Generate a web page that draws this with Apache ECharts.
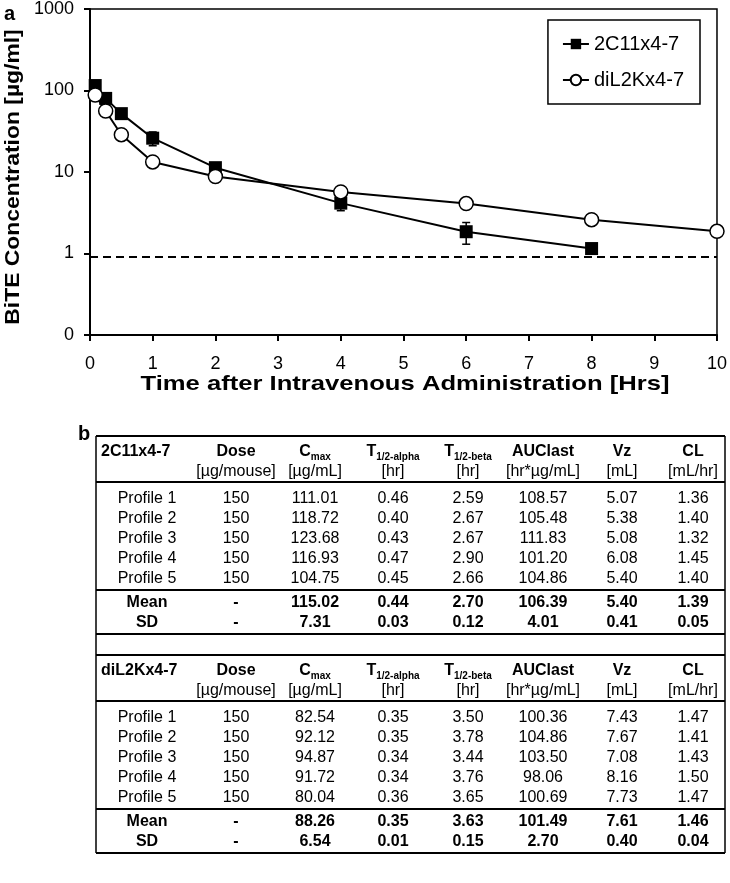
<!DOCTYPE html>
<html><head><meta charset="utf-8">
<script src="https://cdn.jsdelivr.net/npm/echarts@6/dist/echarts.min.js"></script>
<style>html,body{margin:0;padding:0;background:#fff}#c{width:730px;height:883px}</style>
</head><body><div id="c"></div>
<script>
// ---------- chart data (panel a) ----------
const seriesNames = ['2C11x4-7', 'diL2Kx4-7'];
const time2C11 = [0.083, 0.25, 0.5, 1, 2, 4, 6, 8];
const conc2C11 = [115, 80, 52, 26, 11.3, 4.15, 1.85, 1.15];
const sd2C11 = [8, 6, 4, 5, 1.5, 0.8, 0.55, 0.1];
const timeDiL2K = [0.083, 0.25, 0.5, 1, 2, 4, 6, 8, 10];
const concDiL2K = [88, 56, 28.7, 13.3, 8.8, 5.7, 4.1, 2.6, 1.87];
const lloq = 0.91;
const yTickValues = [0.1, 1, 10, 100, 1000];
const yTickLabels = ['0', '1', '10', '100', '1000'];
const xTitle = 'Time after Intravenous Administration [Hrs]';
const yTitle = 'BiTE Concentration [µg/ml]';

// ---------- table data (panel b) ----------
const headMain = ['Dose', 'C', 'T', 'T', 'AUClast', 'Vz', 'CL'];
const headSub = ['', 'max', '1/2-alpha', '1/2-beta', '', '', ''];
const headUnits = ['[µg/mouse]', '[µg/mL]', '[hr]', '[hr]', '[hr*µg/mL]', '[mL]', '[mL/hr]'];
const profileLabels = ['Profile 1', 'Profile 2', 'Profile 3', 'Profile 4', 'Profile 5'];
const statLabels = ['Mean', 'SD'];
const groupNames = ['2C11x4-7', 'diL2Kx4-7'];
const profiles2C11 = [
  [150, 111.01, 0.46, 2.59, 108.57, 5.07, 1.36],
  [150, 118.72, 0.40, 2.67, 105.48, 5.38, 1.40],
  [150, 123.68, 0.43, 2.67, 111.83, 5.08, 1.32],
  [150, 116.93, 0.47, 2.90, 101.20, 6.08, 1.45],
  [150, 104.75, 0.45, 2.66, 104.86, 5.40, 1.40]
];
const mean2C11 = ['-', 115.02, 0.44, 2.70, 106.39, 5.40, 1.39];
const sdTab2C11 = ['-', 7.31, 0.03, 0.12, 4.01, 0.41, 0.05];
const profilesDiL2K = [
  [150, 82.54, 0.35, 3.50, 100.36, 7.43, 1.47],
  [150, 92.12, 0.35, 3.78, 104.86, 7.67, 1.41],
  [150, 94.87, 0.34, 3.44, 103.50, 7.08, 1.43],
  [150, 91.72, 0.34, 3.76, 98.06, 8.16, 1.50],
  [150, 80.04, 0.36, 3.65, 100.69, 7.73, 1.47]
];
const meanDiL2K = ['-', 88.26, 0.35, 3.63, 101.49, 7.61, 1.46];
const sdTabDiL2K = ['-', 6.54, 0.01, 0.15, 2.70, 0.40, 0.04];

// ---------- build ----------
const FONT = '"Liberation Sans", Arial, Helvetica, sans-serif';
const chart = echarts.init(document.getElementById('c'), null, {renderer: 'canvas'});

function fmt(v, col) { return (typeof v === 'number') ? (col === 0 ? String(v) : v.toFixed(2)) : v; }

// table layout
const colX = [236, 315, 393, 468, 543, 622, 693];
const labelX = 147;
const tblLeft = 96, tblRight = 725;
const blockTops = [436, 655];
const g = [];
function txt(x, y, text, bold, size, align) {
  g.push({type: 'text', z: 10, style: {x: x, y: y, text: text, fill: '#000', font: (bold ? 'bold ' : '') + (size || 16) + 'px ' + FONT, align: align || 'center', verticalAlign: 'middle'}});
}
function hline(y, w) {
  g.push({type: 'line', z: 10, shape: {x1: tblLeft, y1: y, x2: tblRight, y2: y}, style: {stroke: '#000', lineWidth: w || 2}});
}
const blocks = [
  {name: groupNames[0], prof: profiles2C11, mean: mean2C11, sd: sdTab2C11},
  {name: groupNames[1], prof: profilesDiL2K, mean: meanDiL2K, sd: sdTabDiL2K}
];
blocks.forEach((b, bi) => {
  const T = blockTops[bi];
  txt(101, T + 16, b.name, true, 16, 'left');
  headMain.forEach((h, i) => {
    if (headSub[i]) {
      g.push({type: 'text', z: 10, style: {x: colX[i], y: T + 16, text: '{m|' + h + '}{s|' + headSub[i] + '}', align: 'center', verticalAlign: 'middle',
        rich: {m: {fontSize: 16, fontWeight: 'bold', fontFamily: 'Liberation Sans', fill: '#000', lineHeight: 20},
               s: {fontSize: 10, fontWeight: 'bold', fontFamily: 'Liberation Sans', fill: '#000', lineHeight: 20, verticalAlign: 'bottom'}}}});
    } else {
      txt(colX[i], T + 16, h, true, 16);
    }
    txt(colX[i], T + 36, headUnits[i], false, 16);
  });
  hline(T + 46, 2);
  b.prof.forEach((row, r) => {
    const y = T + 63 + r * 20;
    txt(labelX, y, profileLabels[r], false, 16);
    row.forEach((v, i) => txt(colX[i], y, fmt(v, i), false, 16));
  });
  hline(T + 154, 2);
  [b.mean, b.sd].forEach((row, r) => {
    const y = T + 167 + r * 20;
    txt(labelX, y, statLabels[r], true, 16);
    row.forEach((v, i) => txt(colX[i], y, fmt(v, i), true, 16));
  });
  hline(T, 2);
  hline(T + 198, 2);
});
// vertical borders
g.push({type: 'line', z: 10, shape: {x1: tblLeft, y1: blockTops[0], x2: tblLeft, y2: blockTops[1] + 198}, style: {stroke: '#000', lineWidth: 1.5}});
g.push({type: 'line', z: 10, shape: {x1: tblRight, y1: blockTops[0], x2: tblRight, y2: blockTops[1] + 198}, style: {stroke: '#000', lineWidth: 1.5}});
// panel letters
g.push({type: 'text', z: 10, style: {x: 4, y: 14, text: 'a', fill: '#000', font: 'bold 20px ' + FONT, verticalAlign: 'middle'}});
g.push({type: 'text', z: 10, style: {x: 78, y: 434, text: 'b', fill: '#000', font: 'bold 20px ' + FONT, verticalAlign: 'middle'}});
// axis titles (lettering slightly stretched like the reference)
g.push({type: 'text', z: 10, x: 405, y: 384, scaleX: 1.22, style: {x: 0, y: 0, text: xTitle, fill: '#000', font: 'bold 21px ' + FONT, align: 'center', verticalAlign: 'middle'}});
g.push({type: 'text', z: 10, x: 13, y: 177, rotation: Math.PI / 2, scaleX: 1.09, style: {x: 0, y: 0, text: yTitle, fill: '#000', font: 'bold 21px ' + FONT, align: 'center', verticalAlign: 'middle'}});

const option = {
  backgroundColor: '#fff',
  animation: false,
  textStyle: {fontFamily: FONT},
  grid: {left: 90, right: 11, top: 8, bottom: 548, show: true, borderColor: '#000', borderWidth: 1.5, containLabel: false},
  legend: {
    data: seriesNames, orient: 'vertical', right: 30, top: 20,
    borderColor: '#000', borderWidth: 1.5, padding: [14, 16, 14, 14], itemGap: 16,
    itemWidth: 26, itemHeight: 13,
    textStyle: {fontSize: 20, color: '#000', fontFamily: FONT}
  },
  xAxis: {
    type: 'value', min: 0, max: 10, interval: 1,
    axisLine: {show: true, onZero: false, lineStyle: {color: '#000', width: 2}},
    axisTick: {show: true, inside: false, length: 6, lineStyle: {color: '#000', width: 2}},
    axisLabel: {fontSize: 18, color: '#000', margin: 20},
    splitLine: {show: false}
  },
  yAxis: {
    type: 'log', logBase: 10, min: 0.1, max: 1000,
    axisLine: {show: true, onZero: false, lineStyle: {color: '#000', width: 2}},
    axisTick: {show: true, inside: false, length: 6, lineStyle: {color: '#000', width: 2}},
    axisLabel: {fontSize: 18, color: '#000', margin: 16, formatter: function (v) {
      const i = yTickValues.findIndex(t => Math.abs(Math.log10(t) - Math.log10(v)) < 1e-6);
      return i >= 0 ? yTickLabels[i] : '';
    }},
    splitLine: {show: false}
  },
  series: [
    {
      type: 'custom', name: 'err', z: 1, silent: true,
      renderItem: function (params, api) {
        const x = api.value(0), lo = api.value(2), hi = api.value(3);
        const p1 = api.coord([x, lo]), p2 = api.coord([x, hi]);
        const st = {stroke: '#000', lineWidth: 1.5};
        return {type: 'group', children: [
          {type: 'line', shape: {x1: p1[0], y1: p1[1], x2: p2[0], y2: p2[1]}, style: st},
          {type: 'line', shape: {x1: p1[0] - 4, y1: p1[1], x2: p1[0] + 4, y2: p1[1]}, style: st},
          {type: 'line', shape: {x1: p2[0] - 4, y1: p2[1], x2: p2[0] + 4, y2: p2[1]}, style: st}
        ]};
      },
      encode: {x: 0, y: [1, 2, 3]},
      data: time2C11.map((t, i) => [t, conc2C11[i], conc2C11[i] - sd2C11[i], conc2C11[i] + sd2C11[i]])
    },
    {
      type: 'line', name: seriesNames[0], z: 3,
      data: time2C11.map((t, i) => [t, conc2C11[i]]),
      symbol: 'rect', symbolSize: 13, showAllSymbol: true,
      lineStyle: {color: '#000', width: 2},
      itemStyle: {color: '#000', borderColor: '#000', borderWidth: 0}
    },
    {
      type: 'line', name: seriesNames[1], z: 4,
      data: timeDiL2K.map((t, i) => [t, concDiL2K[i]]),
      symbol: 'circle', symbolSize: 14, showAllSymbol: true,
      lineStyle: {color: '#000', width: 2},
      itemStyle: {color: '#fff', borderColor: '#000', borderWidth: 1.5},
      markLine: {
        silent: true, symbol: ['none', 'none'], label: {show: false},
        lineStyle: {color: '#000', width: 2, type: [8, 5]},
        data: [{yAxis: lloq}]
      }
    }
  ],
  graphic: g
};
chart.setOption(option);
</script>
</body></html>
